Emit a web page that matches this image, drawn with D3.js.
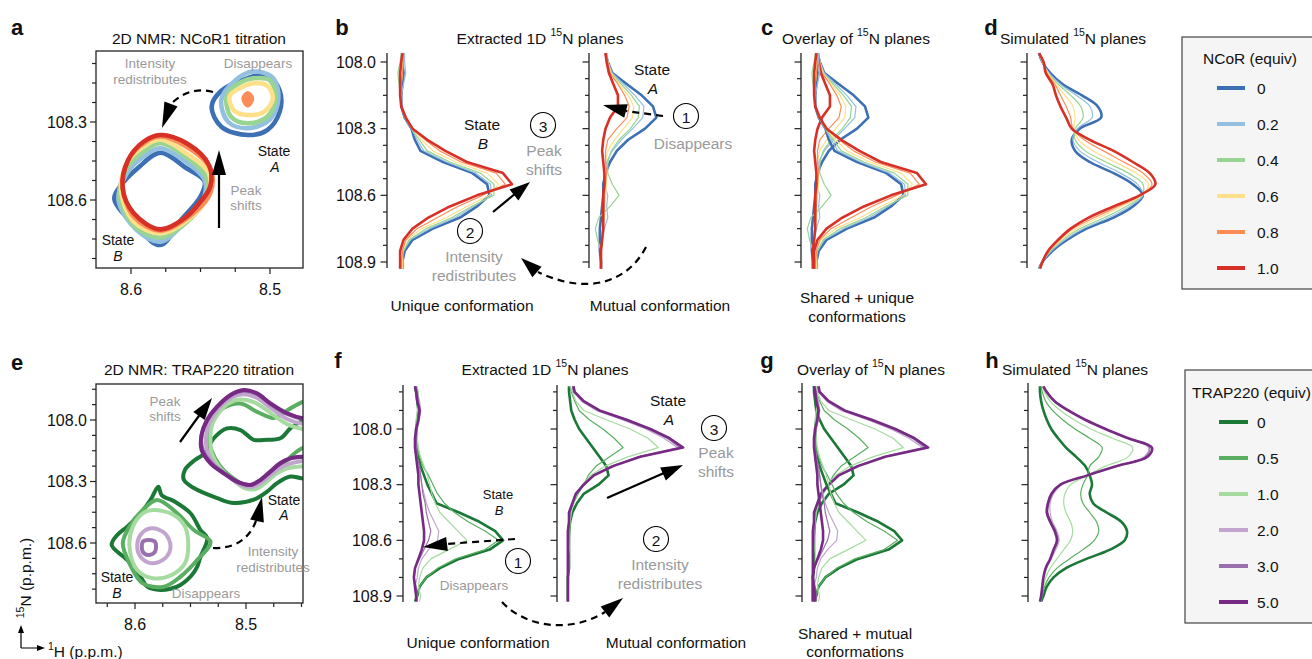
<!DOCTYPE html>
<html>
<head>
<meta charset="utf-8">
<script src="https://cdn.jsdelivr.net/npm/d3@7"></script>
<style>body{margin:0;background:#fff}</style>
</head>
<body>
<div id="chart"></div>
<script>
// ---- levels / colours ----
const ncorLevels = ["0", "0.2", "0.4", "0.6", "0.8", "1.0"];
const ncorColors = ["#3d6fb4", "#93c0df", "#98d492", "#fee08b", "#fc8d59", "#d73027"];
const trapLevels = ["0", "0.5", "1.0", "2.0", "3.0", "5.0"];
const trapColors = ["#1b7837", "#5aae61", "#a6dba0", "#c2a5cf", "#9970ab", "#762a83"];

// ---- tick values ----
const aYTicks = [108.075, 108.15, 108.225, 108.3, 108.375, 108.45, 108.525, 108.6, 108.675, 108.75, 108.825];
const aYLabels = [108.3, 108.6];
const aXTicks = [8.6, 8.575, 8.55, 8.525, 8.5];
const aXLabels = [8.6, 8.5];
const eYTicks = [107.85, 107.925, 108.0, 108.075, 108.15, 108.225, 108.3, 108.375, 108.45, 108.525, 108.6, 108.675, 108.75, 108.825];
const eYLabels = [108.0, 108.3, 108.6];
const eXTicks = [8.625, 8.6, 8.575, 8.55, 8.525, 8.5, 8.475, 8.45];
const eXLabels = [8.6, 8.5];
const topTicks = [108.0, 108.075, 108.15, 108.225, 108.3, 108.375, 108.45, 108.525, 108.6, 108.675, 108.75, 108.825, 108.9];
const botTicks = [107.8, 107.9, 108.0, 108.1, 108.2, 108.3, 108.4, 108.5, 108.6, 108.7, 108.8, 108.9];
const planeLabels = [108.0, 108.3, 108.6, 108.9];

// ---- 1D 15N planes, NCoR (ppm grid, intensity per level) ----
const ppmNCoR = [107.96, 108.0, 108.05, 108.1, 108.15, 108.2, 108.25, 108.3, 108.35, 108.4, 108.45, 108.5, 108.55, 108.6, 108.65, 108.7, 108.75, 108.8, 108.85, 108.9, 108.93];
const uniqueNCoR = [
  [0.03, 0.03, 0.04, 0.03, 0.02, 0.02, 0.05, 0.11, 0.14, 0.19, 0.39, 0.65, 0.78, 0.80, 0.69, 0.54, 0.30, 0.12, 0.05, 0.03, 0.03],
  [0.05, 0.05, 0.06, 0.04, 0.02, 0.02, 0.05, 0.11, 0.16, 0.22, 0.42, 0.68, 0.81, 0.82, 0.66, 0.50, 0.27, 0.10, 0.04, 0.02, 0.02],
  [0.02, 0.01, -0.01, 0.0, 0.01, 0.02, 0.05, 0.11, 0.18, 0.25, 0.45, 0.72, 0.84, 0.84, 0.64, 0.47, 0.24, 0.09, 0.04, 0.02, 0.02],
  [0.03, 0.03, 0.03, 0.02, 0.02, 0.02, 0.06, 0.12, 0.20, 0.30, 0.50, 0.78, 0.88, 0.80, 0.60, 0.42, 0.20, 0.07, 0.03, 0.03, 0.03],
  [0.04, 0.04, 0.03, 0.02, 0.02, 0.02, 0.06, 0.12, 0.23, 0.36, 0.55, 0.86, 0.94, 0.74, 0.52, 0.34, 0.16, 0.06, 0.03, 0.04, 0.04],
  [0.03, 0.02, 0.01, 0.01, 0.01, 0.02, 0.06, 0.12, 0.25, 0.41, 0.60, 0.92, 1.00, 0.69, 0.45, 0.26, 0.12, 0.04, 0.01, 0.01, 0.01]
];
const mutualNCoR = [
  [0.04, 0.06, 0.10, 0.23, 0.36, 0.46, 0.49, 0.39, 0.24, 0.14, 0.08, 0.04, 0.02, 0.02, 0.01, 0.0, -0.01, -0.01, -0.01, 0.0, 0.0],
  [0.05, 0.06, 0.10, 0.20, 0.30, 0.38, 0.37, 0.28, 0.18, 0.10, 0.05, 0.03, 0.03, 0.06, 0.05, 0.06, 0.03, 0.01, 0.0, 0.0, 0.0],
  [0.05, 0.06, 0.09, 0.18, 0.27, 0.34, 0.33, 0.26, 0.16, 0.09, 0.06, 0.06, 0.10, 0.16, 0.08, -0.02, -0.05, -0.03, 0.0, 0.0, 0.0],
  [0.05, 0.06, 0.09, 0.16, 0.24, 0.29, 0.28, 0.20, 0.12, 0.06, 0.04, 0.04, 0.05, 0.04, 0.03, 0.03, 0.02, 0.01, 0.0, 0.0, 0.0],
  [0.05, 0.06, 0.08, 0.15, 0.21, 0.25, 0.23, 0.14, 0.06, 0.04, 0.04, 0.05, 0.04, 0.03, 0.03, 0.02, 0.02, 0.01, 0.0, 0.0, 0.0],
  [0.04, 0.05, 0.07, 0.11, 0.15, 0.15, 0.08, 0.04, 0.02, 0.01, 0.02, 0.03, 0.03, 0.02, 0.02, 0.02, 0.02, 0.01, 0.0, 0.0, 0.0]
];
const simNCoR = [
  [0.0, 0.03, 0.10, 0.21, 0.38, 0.52, 0.55, 0.36, 0.29, 0.32, 0.45, 0.66, 0.83, 0.92, 0.83, 0.66, 0.42, 0.25, 0.12, 0.03, 0.0],
  [0.0, 0.03, 0.09, 0.19, 0.33, 0.45, 0.47, 0.34, 0.30, 0.36, 0.52, 0.72, 0.87, 0.92, 0.80, 0.62, 0.39, 0.23, 0.11, 0.03, 0.0],
  [0.0, 0.03, 0.08, 0.17, 0.28, 0.37, 0.39, 0.32, 0.32, 0.41, 0.59, 0.79, 0.92, 0.91, 0.77, 0.58, 0.36, 0.21, 0.10, 0.03, 0.0],
  [0.0, 0.03, 0.08, 0.15, 0.23, 0.30, 0.32, 0.31, 0.35, 0.48, 0.67, 0.86, 0.97, 0.91, 0.73, 0.53, 0.33, 0.20, 0.09, 0.03, 0.0],
  [0.0, 0.04, 0.07, 0.14, 0.19, 0.24, 0.28, 0.30, 0.40, 0.57, 0.75, 0.92, 1.00, 0.90, 0.70, 0.49, 0.30, 0.18, 0.09, 0.03, 0.01],
  [0.0, 0.04, 0.06, 0.12, 0.15, 0.19, 0.24, 0.29, 0.45, 0.66, 0.83, 0.98, 1.03, 0.89, 0.66, 0.44, 0.28, 0.17, 0.08, 0.03, 0.01]
];

// ---- 1D 15N planes, TRAP220 ----
const ppmTRAP = [107.77, 107.8, 107.85, 107.9, 107.95, 108.0, 108.05, 108.1, 108.15, 108.2, 108.25, 108.3, 108.35, 108.4, 108.45, 108.5, 108.55, 108.6, 108.65, 108.7, 108.75, 108.8, 108.85, 108.9, 108.93];
const uniqueTRAP = [
  [0.0, 0.01, 0.02, 0.03, 0.02, 0.01, 0.01, 0.01, 0.03, 0.05, 0.08, 0.11, 0.15, 0.19, 0.39, 0.57, 0.71, 0.78, 0.66, 0.39, 0.22, 0.10, 0.04, 0.02, 0.0],
  [0.01, 0.02, 0.03, 0.03, 0.02, 0.01, 0.01, 0.02, 0.04, 0.07, 0.12, 0.16, 0.20, 0.26, 0.35, 0.47, 0.62, 0.74, 0.62, 0.36, 0.20, 0.10, 0.04, 0.02, 0.01],
  [0.02, 0.03, 0.03, 0.02, 0.01, 0.01, 0.02, 0.03, 0.05, 0.08, 0.11, 0.13, 0.15, 0.18, 0.22, 0.30, 0.38, 0.46, 0.30, 0.14, 0.07, 0.04, 0.03, 0.05, 0.04],
  [0.01, 0.02, 0.04, 0.05, 0.04, 0.02, 0.0, 0.01, 0.02, 0.03, 0.05, 0.06, 0.08, 0.10, 0.13, 0.17, 0.21, 0.20, 0.12, 0.06, 0.03, 0.02, 0.0, 0.01, 0.01],
  [0.01, 0.02, 0.03, 0.05, 0.03, 0.02, 0.01, 0.01, 0.02, 0.04, 0.05, 0.06, 0.07, 0.09, 0.10, 0.12, 0.14, 0.12, 0.08, 0.04, 0.0, -0.01, 0.01, 0.02, 0.02],
  [0.0, 0.01, 0.02, 0.04, 0.03, 0.01, 0.0, 0.0, 0.01, 0.02, 0.03, 0.03, 0.04, 0.05, 0.06, 0.07, 0.08, 0.08, 0.06, 0.03, 0.0, -0.01, 0.0, 0.01, 0.01]
];
const mutualTRAP = [
  [0.0, 0.0, 0.01, 0.02, 0.05, 0.09, 0.15, 0.21, 0.27, 0.33, 0.35, 0.26, 0.13, 0.07, 0.03, 0.01, 0.0, 0.0, 0.0, 0.0, 0.0, -0.01, -0.01, -0.01, -0.01],
  [0.01, 0.02, 0.05, 0.09, 0.18, 0.30, 0.40, 0.48, 0.36, 0.24, 0.17, 0.13, 0.08, 0.04, 0.02, 0.01, 0.01, 0.0, 0.0, 0.0, 0.0, -0.01, -0.01, -0.01, -0.01],
  [0.01, 0.03, 0.06, 0.13, 0.33, 0.54, 0.70, 0.79, 0.52, 0.32, 0.19, 0.12, 0.07, 0.04, 0.02, 0.01, 0.0, 0.0, 0.0, -0.01, -0.01, -0.01, -0.01, -0.01, -0.01],
  [0.03, 0.04, 0.11, 0.24, 0.47, 0.68, 0.84, 0.96, 0.61, 0.37, 0.21, 0.12, 0.06, 0.03, 0.01, 0.0, 0.0, 0.0, -0.01, -0.01, -0.01, -0.01, -0.01, -0.01, -0.01],
  [0.03, 0.04, 0.12, 0.26, 0.49, 0.70, 0.87, 0.98, 0.62, 0.38, 0.21, 0.13, 0.06, 0.03, 0.01, 0.0, 0.0, 0.0, -0.01, -0.01, -0.01, -0.01, -0.01, -0.01, -0.01],
  [0.04, 0.05, 0.13, 0.27, 0.51, 0.72, 0.89, 1.01, 0.63, 0.39, 0.22, 0.13, 0.06, 0.03, 0.0, 0.0, -0.01, -0.01, -0.01, -0.01, -0.01, -0.01, -0.01, -0.01, -0.01]
];
const simTRAP = [
  [0.0, 0.0, 0.01, 0.03, 0.06, 0.10, 0.16, 0.23, 0.32, 0.40, 0.44, 0.46, 0.44, 0.47, 0.59, 0.72, 0.77, 0.75, 0.62, 0.41, 0.23, 0.12, 0.06, 0.03, 0.01],
  [0.01, 0.02, 0.05, 0.11, 0.20, 0.31, 0.44, 0.55, 0.52, 0.44, 0.42, 0.38, 0.36, 0.38, 0.44, 0.50, 0.52, 0.48, 0.38, 0.26, 0.15, 0.08, 0.04, 0.02, 0.01],
  [0.02, 0.04, 0.09, 0.18, 0.30, 0.45, 0.64, 0.82, 0.78, 0.58, 0.42, 0.27, 0.22, 0.21, 0.23, 0.27, 0.29, 0.27, 0.21, 0.15, 0.09, 0.05, 0.03, 0.01, 0.01],
  [0.03, 0.05, 0.12, 0.24, 0.39, 0.57, 0.77, 0.96, 0.92, 0.67, 0.42, 0.19, 0.12, 0.09, 0.09, 0.11, 0.15, 0.17, 0.14, 0.10, 0.06, 0.03, 0.02, 0.01, 0.0],
  [0.03, 0.06, 0.12, 0.25, 0.40, 0.58, 0.78, 0.97, 0.93, 0.68, 0.42, 0.18, 0.11, 0.08, 0.07, 0.10, 0.14, 0.16, 0.13, 0.09, 0.05, 0.03, 0.02, 0.01, 0.0],
  [0.03, 0.06, 0.13, 0.25, 0.40, 0.58, 0.78, 0.99, 0.95, 0.68, 0.42, 0.18, 0.10, 0.07, 0.06, 0.09, 0.13, 0.15, 0.12, 0.09, 0.05, 0.03, 0.02, 0.01, 0.0]
];

// ---- 2D contours, [1H ppm, 15N ppm] vertices, one list of polygons per level ----
const contoursNCoR = [
  [[[8.579, 108.418], [8.560, 108.478], [8.547, 108.529], [8.550, 108.587], [8.564, 108.677], [8.579, 108.773], [8.596, 108.703], [8.612, 108.597], [8.608, 108.549], [8.594, 108.472]],
   [[8.542, 108.241], [8.535, 108.180], [8.518, 108.135], [8.502, 108.119], [8.493, 108.180], [8.493, 108.260], [8.502, 108.331], [8.516, 108.350], [8.535, 108.318]]],
  [[[8.579, 108.401], [8.559, 108.459], [8.547, 108.523], [8.548, 108.600], [8.562, 108.690], [8.579, 108.760], [8.596, 108.715], [8.609, 108.600], [8.603, 108.497], [8.591, 108.433]],
   [[8.535, 108.215], [8.525, 108.140], [8.512, 108.106], [8.498, 108.130], [8.494, 108.210], [8.500, 108.290], [8.516, 108.324], [8.530, 108.300]]],
  [[[8.579, 108.382], [8.559, 108.440], [8.546, 108.510], [8.547, 108.600], [8.561, 108.690], [8.579, 108.744], [8.597, 108.703], [8.608, 108.587], [8.603, 108.478], [8.591, 108.414]],
   [[8.531, 108.200], [8.522, 108.150], [8.512, 108.132], [8.500, 108.140], [8.496, 108.210], [8.502, 108.280], [8.516, 108.305], [8.528, 108.280]]],
  [[[8.579, 108.367], [8.560, 108.421], [8.544, 108.497], [8.545, 108.590], [8.560, 108.680], [8.579, 108.728], [8.598, 108.683], [8.607, 108.568], [8.603, 108.459], [8.591, 108.395]],
   [[8.529, 108.200], [8.520, 108.165], [8.512, 108.151], [8.502, 108.160], [8.498, 108.210], [8.504, 108.260], [8.516, 108.273], [8.526, 108.255]]],
  [[[8.579, 108.356], [8.560, 108.395], [8.543, 108.478], [8.543, 108.574], [8.560, 108.671], [8.579, 108.718], [8.598, 108.664], [8.606, 108.549], [8.602, 108.446], [8.591, 108.382]],
   [[8.519, 108.209], [8.516, 108.190], [8.513, 108.209], [8.516, 108.236]]],
  [[[8.579, 108.350], [8.560, 108.382], [8.544, 108.465], [8.543, 108.549], [8.553, 108.626], [8.560, 108.664], [8.579, 108.713], [8.598, 108.651], [8.606, 108.555], [8.602, 108.446], [8.591, 108.376]]]
];
const contoursTRAP = [
  [[[8.579, 108.325], [8.576, 108.366], [8.564, 108.399], [8.550, 108.455], [8.541, 108.537], [8.535, 108.577], [8.541, 108.667], [8.544, 108.716], [8.550, 108.764], [8.562, 108.813], [8.577, 108.829], [8.589, 108.813], [8.595, 108.764], [8.607, 108.683], [8.621, 108.610], [8.616, 108.561], [8.607, 108.520], [8.595, 108.455], [8.586, 108.390]],
   [[8.430, 108.00], [8.450, 108.008], [8.460, 108.041], [8.469, 108.089], [8.484, 108.097], [8.493, 108.097], [8.505, 108.049], [8.517, 108.041], [8.529, 108.089], [8.537, 108.162], [8.546, 108.195], [8.555, 108.243], [8.556, 108.292], [8.547, 108.332], [8.526, 108.381], [8.511, 108.405], [8.493, 108.389], [8.481, 108.349], [8.472, 108.308], [8.460, 108.276], [8.450, 108.284], [8.430, 108.29]]],
  [[[8.580, 108.390], [8.562, 108.455], [8.547, 108.537], [8.532, 108.594], [8.544, 108.683], [8.559, 108.764], [8.574, 108.813], [8.593, 108.797], [8.605, 108.699], [8.611, 108.601], [8.605, 108.520], [8.593, 108.439]],
   [[8.430, 107.90], [8.448, 107.91], [8.462, 107.95], [8.475, 107.99], [8.490, 107.96], [8.505, 107.92], [8.520, 107.94], [8.530, 107.99], [8.534, 108.07], [8.531, 108.15], [8.524, 108.22], [8.515, 108.27], [8.500, 108.32], [8.488, 108.31], [8.478, 108.26], [8.468, 108.22], [8.449, 108.137], [8.430, 108.13]]],
  [[[8.584, 108.439], [8.565, 108.463], [8.555, 108.520], [8.552, 108.610], [8.555, 108.699], [8.567, 108.756], [8.584, 108.772], [8.598, 108.732], [8.605, 108.618], [8.602, 108.520], [8.593, 108.455]],
   [[8.430, 108.05], [8.448, 108.045], [8.463, 108.02], [8.478, 107.965], [8.492, 107.915], [8.505, 107.90], [8.516, 107.92], [8.525, 107.97], [8.531, 108.03], [8.532, 108.09], [8.531, 108.16], [8.524, 108.23], [8.512, 108.29], [8.500, 108.335], [8.490, 108.335], [8.481, 108.30], [8.472, 108.26], [8.462, 108.235], [8.448, 108.225], [8.430, 108.22]]],
  [[[8.585, 108.528], [8.573, 108.553], [8.568, 108.618], [8.573, 108.675], [8.585, 108.699], [8.595, 108.667], [8.598, 108.610], [8.594, 108.553]],
   [[8.430, 108.02], [8.448, 108.02], [8.463, 107.995], [8.478, 107.94], [8.491, 107.89], [8.503, 107.875], [8.515, 107.898], [8.526, 107.952], [8.533, 108.015], [8.536, 108.08], [8.535, 108.15], [8.528, 108.22], [8.516, 108.275], [8.504, 108.318], [8.493, 108.325], [8.484, 108.295], [8.475, 108.255], [8.465, 108.222], [8.448, 108.20], [8.430, 108.20]]],
  [[[8.588, 108.585], [8.582, 108.594], [8.582, 108.643], [8.588, 108.659], [8.593, 108.643], [8.593, 108.594]],
   [[8.430, 107.995], [8.448, 107.995], [8.463, 107.97], [8.478, 107.922], [8.490, 107.873], [8.502, 107.857], [8.514, 107.88], [8.526, 107.937], [8.535, 108.0], [8.540, 108.073], [8.539, 108.146], [8.531, 108.211], [8.519, 108.262], [8.507, 108.303], [8.496, 108.317], [8.487, 108.292], [8.478, 108.25], [8.469, 108.21], [8.460, 108.187], [8.448, 108.18], [8.430, 108.18]]],
  [[[8.430, 107.99], [8.448, 107.992], [8.463, 107.967], [8.478, 107.919], [8.490, 107.870], [8.502, 107.854], [8.514, 107.878], [8.526, 107.935], [8.535, 108.0], [8.540, 108.073], [8.540, 108.146], [8.532, 108.211], [8.520, 108.260], [8.508, 108.301], [8.496, 108.317], [8.487, 108.293], [8.478, 108.252], [8.469, 108.211], [8.460, 108.187], [8.448, 108.179], [8.430, 108.178]]]
];

// ---------------------------------------------------------------
const FONT = "'Liberation Sans', Arial, Helvetica, sans-serif";
const GRAY = "#9a9a9a";
const fmt = d3.format(".1f");

const svg = d3.select("#chart").append("svg")
    .attr("width", 1312)
    .attr("height", 659)
    .style("font-family", FONT);

function text(x, y, s, o = {}) {
  return svg.append("text")
      .attr("x", x).attr("y", y)
      .attr("text-anchor", o.anchor || "middle")
      .attr("dominant-baseline", o.base || "central")
      .attr("fill", o.fill || "#111")
      .style("font-size", (o.size || 15.5) + "px")
      .style("font-style", o.italic ? "italic" : null)
      .style("font-weight", o.bold ? "bold" : null)
      .text(s);
}

function supText(x, y, pre, sup, post, size = 15.5) {
  const t = svg.append("text").attr("x", x).attr("y", y)
      .attr("text-anchor", "middle").attr("dominant-baseline", "central")
      .attr("fill", "#111").style("font-size", size + "px");
  t.append("tspan").text(pre);
  t.append("tspan").attr("dy", -6).style("font-size", "10.5px").text(sup);
  t.append("tspan").attr("dy", 6).text(post);
  return t;
}

function head(tip, base, halfW) {
  const dx = tip[0] - base[0], dy = tip[1] - base[1], L = Math.hypot(dx, dy);
  const nx = -dy / L * halfW, ny = dx / L * halfW;
  svg.append("path")
      .attr("d", `M${tip[0]},${tip[1]}L${base[0] + nx},${base[1] + ny}L${base[0] - nx},${base[1] - ny}Z`)
      .attr("fill", "#000");
}

function arrow(d, tip, base, dashed, halfW = 7) {
  svg.append("path").attr("d", d)
      .attr("fill", "none").attr("stroke", "#000").attr("stroke-width", 2.2)
      .attr("stroke-dasharray", dashed ? "7,5" : null);
  head(tip, base, halfW);
}

function circled(x, y, n) {
  svg.append("circle").attr("cx", x).attr("cy", y).attr("r", 12.5)
      .attr("fill", "none").attr("stroke", "#000").attr("stroke-width", 1.1);
  text(x, y + 1, n, { size: 15.5 });
}

// ---- 2D contour panel ----
function contourPanel(id, box, xs, ys, yTicks, yLabels, xTicks, xLabels, contours, colors, lw) {
  svg.append("clipPath").attr("id", id).append("rect")
      .attr("x", box.x0).attr("y", box.y0).attr("width", box.x1 - box.x0).attr("height", box.y1 - box.y0);
  const g = svg.append("g").attr("clip-path", `url(#${id})`);
  const line = d3.line().x(d => xs(d[0])).y(d => ys(d[1])).curve(d3.curveCatmullRomClosed.alpha(0.5));
  contours.forEach((polys, i) => {
    polys.forEach(p => {
      // tiny innermost contours read as solid spots
      const small = p.length <= 4;
      g.append("path").attr("d", line(p))
          .attr("fill", small ? colors[i] : "none").attr("stroke", colors[i])
          .attr("stroke-width", lw).attr("stroke-linejoin", "round");
    });
  });
  svg.append("rect").attr("x", box.x0).attr("y", box.y0)
      .attr("width", box.x1 - box.x0).attr("height", box.y1 - box.y0)
      .attr("fill", "none").attr("stroke", "#222").attr("stroke-width", 1.3);
  yTicks.forEach(t => {
    const major = yLabels.some(l => Math.abs(l - t) < 1e-6);
    svg.append("line").attr("x1", box.x0).attr("x2", box.x0 - (major ? 6 : 4))
        .attr("y1", ys(t)).attr("y2", ys(t)).attr("stroke", "#222").attr("stroke-width", 1.2);
    if (major) text(box.x0 - 9, ys(t), fmt(t), { anchor: "end", size: 16 });
  });
  xTicks.forEach(t => {
    const major = xLabels.some(l => Math.abs(l - t) < 1e-6);
    svg.append("line").attr("y1", box.y1).attr("y2", box.y1 + (major ? 6 : 4))
        .attr("x1", xs(t)).attr("x2", xs(t)).attr("stroke", "#222").attr("stroke-width", 1.2);
    if (major) text(xs(t), box.y1 + 21, fmt(t), { size: 16 });
  });
}

// ---- 1D plane axis and traces ----
function planeAxis(x0, ys, top, bottom, ticks, showLabels) {
  svg.append("line").attr("x1", x0).attr("x2", x0).attr("y1", top).attr("y2", bottom)
      .attr("stroke", "#222").attr("stroke-width", 1.3);
  ticks.forEach(t => {
    const major = planeLabels.some(l => Math.abs(l - t) < 1e-6);
    svg.append("line").attr("x1", x0).attr("x2", x0 - (major ? 6.5 : 4))
        .attr("y1", ys(t)).attr("y2", ys(t)).attr("stroke", "#222").attr("stroke-width", 1.2);
    if (major && showLabels) text(x0 - 11, ys(t), fmt(t), { anchor: "end", size: 16 });
  });
}

function traces(x0, ys, ppm, series, colors, curve) {
  const xs = d3.scaleLinear().domain([0, 1]).range([x0 + 12, x0 + 125]);
  const line = d3.line().x(d => xs(d[1])).y(d => ys(d[0])).curve(curve);
  series.forEach((vals, i) => {
    svg.append("path").datum(ppm.map((p, j) => [p, vals[j]]))
        .attr("d", line)
        .attr("fill", "none").attr("stroke", colors[i])
        .attr("stroke-width", (i === 0 || i === series.length - 1) ? 2.6 : 1.2)
        .attr("stroke-linejoin", "round");
  });
}

// ================= TOP ROW (NCoR) =================
text(17, 27, "a", { bold: true, size: 22 });
text(342, 27, "b", { bold: true, size: 22 });
text(767, 27, "c", { bold: true, size: 22 });
text(991, 27, "d", { bold: true, size: 22 });

// a
const xA = d3.scaleLinear().domain([8.6, 8.5]).range([131, 270]);
const yA = d3.scaleLinear().domain([108.3, 108.6]).range([122, 200]);
text(199, 38, "2D NMR: NCoR1 titration");
contourPanel("clipA", { x0: 96, x1: 303, y0: 51, y1: 268 }, xA, yA,
  aYTicks, aYLabels, aXTicks, aXLabels, contoursNCoR, ncorColors, 4.6);
text(150, 63, "Intensity", { fill: GRAY, size: 13.5 });
text(150, 79, "redistributes", { fill: GRAY, size: 13.5 });
text(258, 63, "Disappears", { fill: GRAY, size: 13.5 });
text(274, 151, "State", { size: 14 });
text(275, 167, "A", { size: 14, italic: true });
text(118, 240, "State", { size: 14 });
text(118, 256, "B", { size: 14, italic: true });
text(246, 190, "Peak", { fill: GRAY, size: 13.5 });
text(246, 205, "shifts", { fill: GRAY, size: 13.5 });
arrow("M213,92 Q190,86 172,103", [162, 128], [171, 104], true, 7);
arrow("M219,228 L219,172", [219, 150], [219, 175], false, 7);

// b
const yTop = d3.scaleLinear().domain([108.0, 108.9]).range([62, 262]);
supText(540, 38, "Extracted 1D ", "15", "N planes");
planeAxis(387, yTop, 53, 268, topTicks, true);
planeAxis(589, yTop, 53, 268, topTicks, false);
traces(387, yTop, ppmNCoR, uniqueNCoR, ncorColors, d3.curveLinear);
traces(589, yTop, ppmNCoR, mutualNCoR, ncorColors, d3.curveLinear);
text(482, 124, "State");
text(483, 143, "B", { italic: true });
circled(543, 125, "3");
text(544, 150, "Peak", { fill: GRAY });
text(544, 169, "shifts", { fill: GRAY });
arrow("M493,212 L516,193", [530, 182], [514, 195], false, 7);
circled(470, 231, "2");
text(474, 256, "Intensity", { fill: GRAY });
text(474, 275, "redistributes", { fill: GRAY });
arrow("M646,247 C628,282 588,296 538,272", [521, 258], [537, 272], true, 7);
text(652, 69, "State");
text(653, 88, "A", { italic: true });
circled(686, 116, "1");
text(693, 143, "Disappears", { fill: GRAY });
arrow("M663,116 L626,111", [603, 105], [626, 111], true, 7);
text(462, 305, "Unique conformation");
text(660, 305, "Mutual conformation");

// c
supText(856, 38, "Overlay of ", "15", "N planes");
planeAxis(801, yTop, 53, 268, topTicks, false);
traces(801, yTop, ppmNCoR, mutualNCoR, ncorColors, d3.curveLinear);
traces(801, yTop, ppmNCoR, uniqueNCoR, ncorColors, d3.curveLinear);
text(857, 297, "Shared + unique");
text(857, 316, "conformations");

// d
supText(1073, 38, "Simulated ", "15", "N planes");
planeAxis(1027, yTop, 53, 268, topTicks, false);
traces(1027, yTop, ppmNCoR, simNCoR, ncorColors, d3.curveCatmullRom);

// legend NCoR
svg.append("rect").attr("x", 1182).attr("y", 37).attr("width", 140).attr("height", 252)
    .attr("fill", "#f5f5f5").attr("stroke", "#444").attr("stroke-width", 1.2);
text(1250, 58, "NCoR (equiv)");
ncorLevels.forEach((l, i) => {
  const y = 88 + i * 36;
  svg.append("line").attr("x1", 1217).attr("x2", 1245).attr("y1", y).attr("y2", y)
      .attr("stroke", ncorColors[i]).attr("stroke-width", 4);
  text(1257, y, l, { anchor: "start" });
});

// ================= BOTTOM ROW (TRAP220) =================
text(17, 362, "e", { bold: true, size: 22 });
text(338, 360, "f", { bold: true, size: 22 });
text(767, 360, "g", { bold: true, size: 22 });
text(992, 360, "h", { bold: true, size: 22 });

// e
const xE = d3.scaleLinear().domain([8.6, 8.5]).range([135, 246]);
const yE = d3.scaleLinear().domain([108.0, 108.6]).range([420, 543]);
text(199, 369, "2D NMR: TRAP220 titration");
contourPanel("clipE", { x0: 96, x1: 303, y0: 384, y1: 603 }, xE, yE,
  eYTicks, eYLabels, eXTicks, eXLabels, contoursTRAP, trapColors, 4);
text(165, 401, "Peak", { fill: GRAY, size: 13.5 });
text(165, 416, "shifts", { fill: GRAY, size: 13.5 });
arrow("M180,442 L201,413", [212, 398], [199, 416], false, 7);
text(284, 500, "State", { size: 14 });
text(284, 515, "A", { size: 14, italic: true });
arrow("M213,548 Q245,549 256,521", [262, 497], [257, 521], true, 7);
text(273, 551, "Intensity", { fill: GRAY, size: 13.5 });
text(273, 567, "redistributes", { fill: GRAY, size: 13.5 });
text(117, 577, "State", { size: 14 });
text(117, 593, "B", { size: 14, italic: true });
text(206, 593, "Disappears", { fill: GRAY, size: 13.5 });

// axis key
svg.append("path").attr("d", "M21,648 L21,632 M21,648 L38,648")
    .attr("fill", "none").attr("stroke", "#000").attr("stroke-width", 1.2);
head([21, 625], [21, 633], 3);
head([45, 648], [37, 648], 3);
const nLab = svg.append("text").attr("transform", "translate(25,578) rotate(-90)")
    .attr("text-anchor", "middle").attr("dominant-baseline", "central")
    .style("font-size", "15.5px").attr("fill", "#111");
nLab.append("tspan").attr("dy", -5).style("font-size", "10.5px").text("15");
nLab.append("tspan").attr("dy", 5).text("N (p.p.m.)");
const hLab = svg.append("text").attr("x", 48).attr("y", 651)
    .attr("dominant-baseline", "central").style("font-size", "15.5px").attr("fill", "#111");
hLab.append("tspan").attr("dy", -5).style("font-size", "10.5px").text("1");
hLab.append("tspan").attr("dy", 5).text("H (p.p.m.)");

// f
const yBot = d3.scaleLinear().domain([108.0, 108.9]).range([429, 596]);
supText(545, 369, "Extracted 1D ", "15", "N planes");
planeAxis(403, yBot, 385, 602, botTicks, true);
planeAxis(557, yBot, 385, 602, botTicks, false);
traces(403, yBot, ppmTRAP, uniqueTRAP, trapColors, d3.curveLinear);
traces(557, yBot, ppmTRAP, mutualTRAP, trapColors, d3.curveLinear);
text(498, 494, "State", { size: 13 });
text(499, 510, "B", { size: 13, italic: true });
arrow("M515,539 L446,544", [423, 547], [447, 544], true, 7);
circled(518, 561, "1");
text(474, 585, "Disappears", { fill: GRAY, size: 13.5 });
text(668, 400, "State");
text(669, 419, "A", { italic: true });
circled(714, 428, "3");
text(716, 452, "Peak", { fill: GRAY });
text(716, 471, "shifts", { fill: GRAY });
arrow("M607,498 L664,473", [683, 465], [663, 474], false, 7);
circled(656, 539, "2");
text(660, 564, "Intensity", { fill: GRAY });
text(660, 583, "redistributes", { fill: GRAY });
arrow("M502,602 C525,627 570,634 605,612", [623, 598], [605, 612], true, 7);
text(478, 642, "Unique conformation");
text(676, 642, "Mutual conformation");

// g
supText(871, 369, "Overlay of ", "15", "N planes");
planeAxis(802, yBot, 383, 602, botTicks, false);
traces(802, yBot, ppmTRAP, mutualTRAP, trapColors, d3.curveLinear);
traces(802, yBot, ppmTRAP, uniqueTRAP, trapColors, d3.curveLinear);
text(855, 633, "Shared + mutual");
text(855, 651, "conformations");

// h
supText(1075, 369, "Simulated ", "15", "N planes");
planeAxis(1028, yBot, 383, 602, botTicks, false);
traces(1028, yBot, ppmTRAP, simTRAP, trapColors, d3.curveCatmullRom);

// legend TRAP220
svg.append("rect").attr("x", 1185).attr("y", 370).attr("width", 140).attr("height", 253)
    .attr("fill", "#f5f5f5").attr("stroke", "#444").attr("stroke-width", 1.2);
text(1192, 392, "TRAP220 (equiv)", { anchor: "start" });
trapLevels.forEach((l, i) => {
  const y = 422 + i * 36;
  svg.append("line").attr("x1", 1219).attr("x2", 1248).attr("y1", y).attr("y2", y)
      .attr("stroke", trapColors[i]).attr("stroke-width", 4);
  text(1257, y, l, { anchor: "start" });
});
</script>
</body>
</html>
